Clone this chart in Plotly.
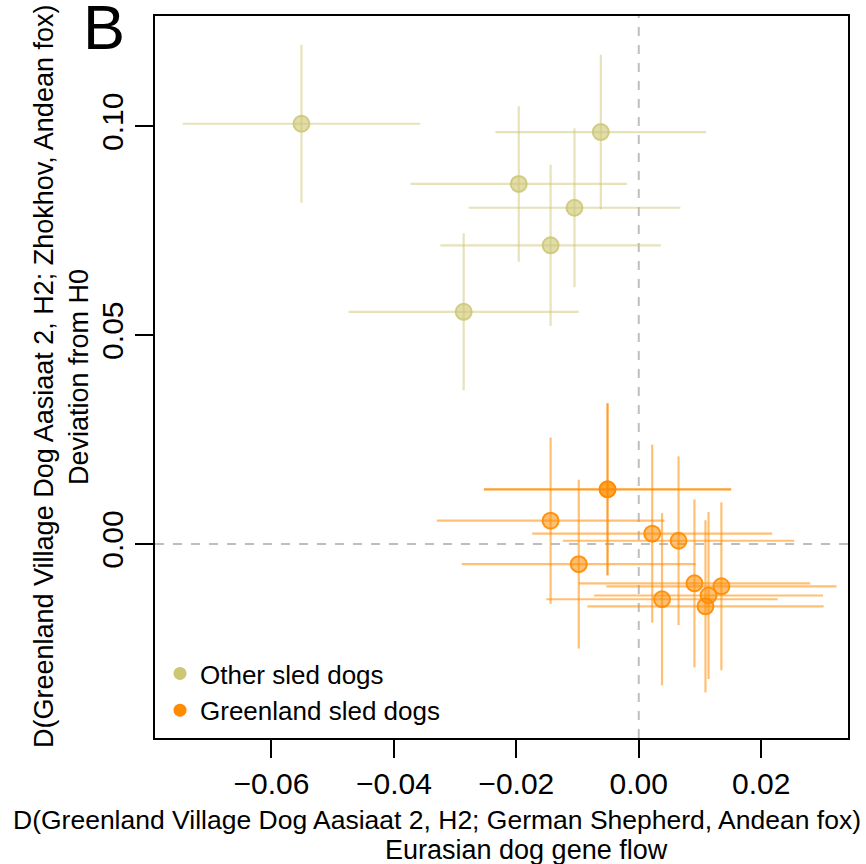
import plotly.graph_objects as go

# ---------------- data ----------------
other_x = [-0.0551, -0.0062, -0.0196, -0.0105, -0.0144, -0.0286]
other_y = [0.1006, 0.0986, 0.0862, 0.0805, 0.0715, 0.0556]
other_xerr = [0.0194, 0.0172, 0.0177, 0.0173, 0.0180, 0.0188]
other_yerr = [0.0189, 0.0185, 0.0186, 0.0190, 0.0193, 0.0188]

green_x = [-0.0051, -0.0144, 0.0022, 0.0065, -0.0098, 0.0091, 0.0135, 0.0114, 0.0038, 0.0109]
green_y = [0.0131, 0.0056, 0.0025, 0.0008, -0.0048, -0.0094, -0.0101, -0.0123, -0.0132, -0.0149]
green_xerr = [0.0202, 0.0186, 0.0196, 0.0189, 0.0191, 0.0189, 0.0188, 0.0187, 0.0189, 0.0193]
green_yerr = [0.0206, 0.0199, 0.0213, 0.0202, 0.0202, 0.0201, 0.0201, 0.0200, 0.0206, 0.0206]
green_strong = [True, False, False, False, False, False, False, False, False, False]

x_ticks = [-0.06, -0.04, -0.02, 0.00, 0.02]
x_ticktext = ["\u22120.06", "\u22120.04", "\u22120.02", "0.00", "0.02"]
y_ticks = [0.00, 0.05, 0.10]
y_ticktext = ["0.00", "0.05", "0.10"]

legend_names = ["Other sled dogs", "Greenland sled dogs"]

x_title_1 = "D(Greenland Village Dog Aasiaat 2, H2; German Shepherd, Andean fox)"
x_title_2 = "Eurasian dog gene flow"
y_title_1 = "D(Greenland Village Dog Aasiaat 2, H2; Zhokhov, Andean fox)"
y_title_2 = "Deviation from H0"
panel_label = "B"

# ---------------- style ----------------
FONT = "Liberation Sans, Arial, sans-serif"
KHAKI = "205,198,115"
ORANGE = "255,140,0"

W, H = 866, 864
ML, MR, MT, MB = 155, 18, 16, 126
PW, PH = W - ML - MR, H - MT - MB


def px_x(px):
    return (px - ML) / PW


def px_y(py):
    return (H - MB - py) / PH


fig = go.Figure()


def add_group(xs, ys, xe, ye, rgb, line_a, fill_a, edge_a):
    fig.add_trace(go.Scatter(
        x=xs, y=ys, mode="markers", showlegend=False, hoverinfo="skip",
        error_x=dict(type="data", array=xe, visible=True, width=0,
                     thickness=2.2, color=f"rgba({rgb},{line_a})"),
        error_y=dict(type="data", array=ye, visible=True, width=0,
                     thickness=2.2, color=f"rgba({rgb},{line_a})"),
        marker=dict(symbol="circle", size=16, color=f"rgba({rgb},{fill_a})",
                    line=dict(color=f"rgba({rgb},{edge_a})", width=2)),
    ))


add_group(other_x, other_y, other_xerr, other_yerr, KHAKI, 0.5, 0.6, 0.85)

gw = [i for i, s in enumerate(green_strong) if not s]
gs = [i for i, s in enumerate(green_strong) if s]
add_group([green_x[i] for i in gw], [green_y[i] for i in gw],
          [green_xerr[i] for i in gw], [green_yerr[i] for i in gw],
          ORANGE, 0.55, 0.55, 0.9)
add_group([green_x[i] for i in gs], [green_y[i] for i in gs],
          [green_xerr[i] for i in gs], [green_yerr[i] for i in gs],
          ORANGE, 0.85, 0.8, 1.0)

# legend entries
for name, rgb in zip(legend_names, [KHAKI, ORANGE]):
    fig.add_trace(go.Scatter(
        x=[None], y=[None], mode="markers", name=name,
        marker=dict(symbol="circle", size=13, color=f"rgb({rgb})"),
    ))

# reference lines
fig.add_shape(type="line", x0=0, x1=0, y0=0, y1=1, xref="x", yref="paper",
              line=dict(color="#BEBEBE", width=2, dash="dash"), layer="below")
fig.add_shape(type="line", x0=0, x1=1, y0=0, y1=0, xref="paper", yref="y",
              line=dict(color="#BEBEBE", width=2, dash="dash"), layer="below")

ann = []
ann.append(dict(text=panel_label, x=px_x(104), y=px_y(27), xref="paper", yref="paper",
                showarrow=False, xanchor="center", yanchor="middle",
                font=dict(family=FONT, size=63, color="black")))
ann.append(dict(text=y_title_1, x=px_x(44), y=px_y(377), xref="paper", yref="paper",
                showarrow=False, xanchor="center", yanchor="middle", textangle=-90,
                font=dict(family=FONT, size=27, color="black")))
ann.append(dict(text=y_title_2, x=px_x(79), y=px_y(377), xref="paper", yref="paper",
                showarrow=False, xanchor="center", yanchor="middle", textangle=-90,
                font=dict(family=FONT, size=27, color="black")))
ann.append(dict(text=x_title_1, x=px_x(437), y=px_y(820), xref="paper", yref="paper",
                showarrow=False, xanchor="center", yanchor="middle",
                font=dict(family=FONT, size=26.5, color="black")))
ann.append(dict(text=x_title_2, x=px_x(526), y=px_y(850), xref="paper", yref="paper",
                showarrow=False, xanchor="center", yanchor="middle",
                font=dict(family=FONT, size=27, color="black")))

fig.update_layout(
    width=W, height=H, autosize=False,
    margin=dict(l=ML, r=MR, t=MT, b=MB, pad=0),
    plot_bgcolor="white", paper_bgcolor="white",
    font=dict(family=FONT, color="black"),
    annotations=ann,
    legend=dict(x=px_x(160), y=px_y(650), xanchor="left", yanchor="top",
                bgcolor="rgba(0,0,0,0)", borderwidth=0,
                font=dict(family=FONT, size=26, color="black"),
                itemwidth=30, tracegroupgap=0),
    xaxis=dict(range=[-0.07902, 0.03418], showgrid=False, zeroline=False,
               showline=True, mirror=True, linecolor="black", linewidth=2,
               ticks="outside", ticklen=18, tickwidth=1.5, tickcolor="black",
               tickvals=x_ticks, ticktext=x_ticktext,
               tickfont=dict(family=FONT, size=30, color="black")),
    yaxis=dict(range=[-0.04641, 0.12639], showgrid=False, zeroline=False,
               showline=True, mirror=True, linecolor="black", linewidth=2,
               ticks="outside", ticklen=18, tickwidth=1.5, tickcolor="black",
               tickvals=y_ticks, ticktext=y_ticktext, tickangle=-90,
               tickfont=dict(family=FONT, size=30, color="black")),
)

fig.write_html("out.html")
